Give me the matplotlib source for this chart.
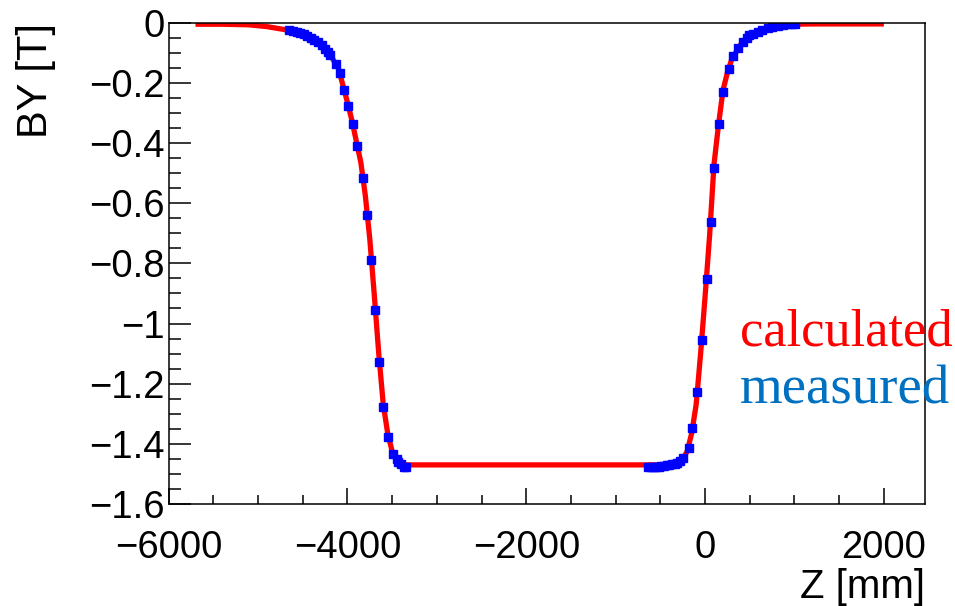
import matplotlib
matplotlib.use("Agg")
import matplotlib.pyplot as plt
from matplotlib.ticker import MultipleLocator, FuncFormatter

# Calculated field profile BY(Z)
calc_z = [-5700, -5400, -5100, -4900, -4800, -4700, -4600, -4500, -4400, -4300,
          -4200, -4100, -4000, -3950, -3900, -3850, -3800, -3750, -3700, -3650,
          -3600, -3550, -3500, -3450, -3400, -3350, -3300, -600, -500, -400,
          -300, -250, -200, -150, -100, -50, 0, 50, 100, 150,
          200, 250, 300, 400, 500, 600, 700, 800, 900, 1000,
          1200, 1500, 2000]
calc_by = [-0.005, -0.005, -0.007, -0.013, -0.018, -0.023, -0.029, -0.038, -0.052, -0.072,
           -0.103, -0.153, -0.265, -0.325, -0.395, -0.465, -0.575, -0.720, -0.905, -1.100,
           -1.268, -1.365, -1.425, -1.452, -1.465, -1.470, -1.470, -1.470, -1.470, -1.468,
           -1.460, -1.450, -1.425, -1.365, -1.270, -1.100, -0.910, -0.710, -0.470, -0.340,
           -0.225, -0.165, -0.120, -0.072, -0.042, -0.030, -0.019, -0.012, -0.007, -0.005,
           -0.004, -0.004, -0.004]

# Measured field profile BY(Z)
meas_z = [-4650, -4610, -4570, -4530, -4490, -4450, -4410, -4370, -4330, -4290,
          -4250, -4220, -4190, -4123, -4079, -4034, -3990, -3934, -3889, -3821,
          -3776, -3732, -3687, -3642, -3597, -3541, -3486, -3450, -3430, -3400,
          -3370, -3350,
          -640, -610, -580, -550, -520, -490, -460, -430, -400, -370,
          -340, -310, -280, -243, -185, -141, -85, -40, 16, 61,
          95, 151, 196, 262, 313, 366, 422, 470, 496, 540,
          590, 640, 702, 750, 813, 870, 925, 970, 1010]
meas_by = [-0.025, -0.028, -0.031, -0.035, -0.039, -0.044, -0.050, -0.056, -0.064, -0.074,
           -0.086, -0.096, -0.107, -0.137, -0.167, -0.224, -0.277, -0.337, -0.410, -0.516,
           -0.639, -0.789, -0.955, -1.128, -1.278, -1.378, -1.434, -1.452, -1.460, -1.468,
           -1.476, -1.478,
           -1.478, -1.477, -1.477, -1.476, -1.476, -1.474, -1.473, -1.471, -1.470, -1.468,
           -1.466, -1.463, -1.458, -1.447, -1.413, -1.346, -1.227, -1.055, -0.853, -0.663,
           -0.484, -0.337, -0.230, -0.155, -0.111, -0.084, -0.064, -0.050, -0.041, -0.036,
           -0.031, -0.025, -0.018, -0.014, -0.011, -0.007, -0.005, -0.004, -0.004]

x_ticks = [-6000, -4000, -2000, 0, 2000]
y_ticks = [0, -0.2, -0.4, -0.6, -0.8, -1.0, -1.2, -1.4, -1.6]

plt.rcParams['font.family'] = ['Liberation Sans', 'DejaVu Sans']

fig = plt.figure(figsize=(9.55, 6.06), dpi=100)
ax = fig.add_axes([0.1766, 0.1683, 0.9686 - 0.1766, 0.9625 - 0.1683])

ax.plot(calc_z, calc_by, color='#ff0000', lw=3.8, solid_capstyle='butt', zorder=3)
ax.plot(meas_z, meas_by, ls='none', marker='s', ms=5.5, color='#0000ff',
        mec='#0000ff', zorder=4)

ax.set_xlim(-6000, 2460)
ax.set_ylim(-1.6, 0.0)

ax.set_xticks(x_ticks)
ax.set_yticks(y_ticks)
ax.xaxis.set_minor_locator(MultipleLocator(500))
ax.yaxis.set_minor_locator(MultipleLocator(0.05))


def fmt_num(v, pos=None):
    s = ('%g' % round(v, 3))
    return s.replace('-', '\u2212')


ax.xaxis.set_major_formatter(FuncFormatter(fmt_num))
ax.yaxis.set_major_formatter(FuncFormatter(fmt_num))

ax.tick_params(axis='both', which='both', direction='in', top=False, right=False,
               width=1.1, colors='black', labelsize=27.5)
ax.tick_params(axis='y', which='major', length=15.8, pad=3)
ax.tick_params(axis='y', which='minor', length=8.6)
ax.tick_params(axis='x', which='major', length=11.5, pad=19)
ax.tick_params(axis='x', which='minor', length=6.5)

for sp in ax.spines.values():
    sp.set_linewidth(1.1)
    sp.set_zorder(5)

ax.set_xlabel('Z [mm]', loc='right', fontsize=29, labelpad=1)
ax.set_ylabel('BY [T]', loc='top', fontsize=30, labelpad=24)

fig.text(740 / 955, 1 - 346 / 606, 'calculated', color='#ff0000',
         fontsize=37.8, family=['Liberation Serif', 'DejaVu Serif'],
         ha='left', va='baseline', zorder=2)
fig.text(740 / 955, 1 - 403 / 606, 'measured', color='#0070c0',
         fontsize=39.5, family=['Liberation Serif', 'DejaVu Serif'],
         ha='left', va='baseline', zorder=2)

fig.savefig('out.png', dpi=100)
